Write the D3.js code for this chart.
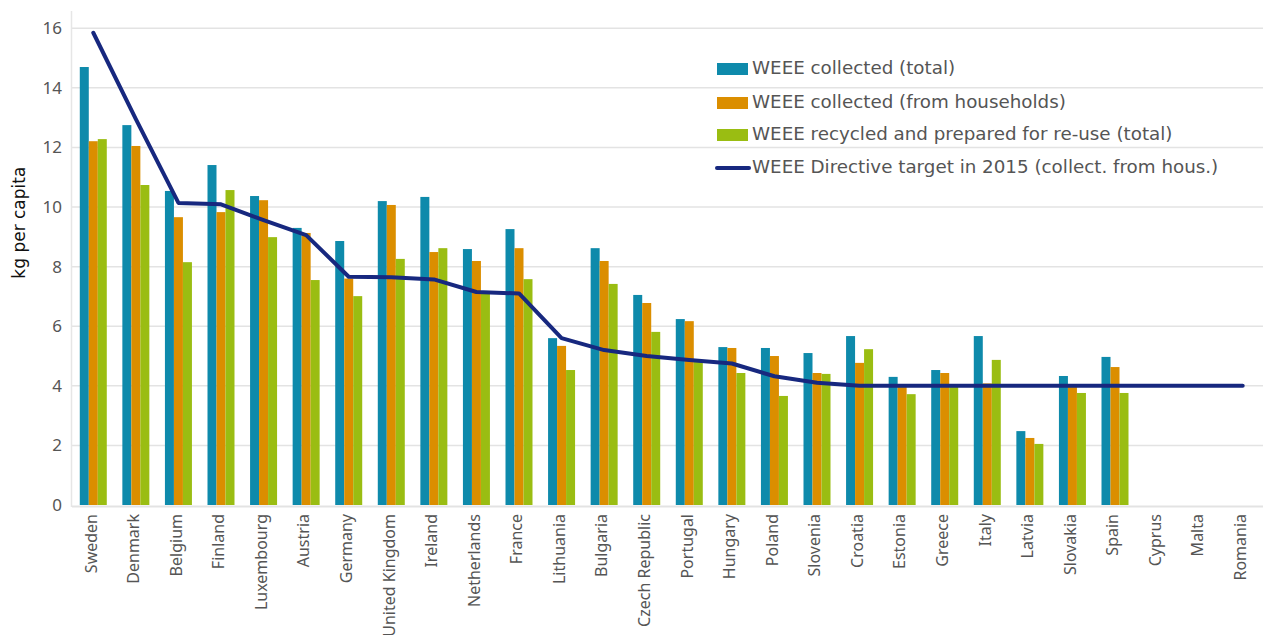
<!DOCTYPE html>
<html><head><meta charset="utf-8">
<script src="https://cdn.jsdelivr.net/npm/d3@7"></script>
<style>body{margin:0;background:#fff;} text{font-family:"Noto Sans",sans-serif;}</style>
</head><body><svg id="c" width="1263" height="635"></svg>
<script>
const countries = ["Sweden","Denmark","Belgium","Finland","Luxembourg","Austria","Germany","United Kingdom","Ireland","Netherlands","France","Lithuania","Bulgaria","Czech Republic","Portugal","Hungary","Poland","Slovenia","Croatia","Estonia","Greece","Italy","Latvia","Slovakia","Spain","Cyprus","Malta","Romania"];
const collectedTotal = [14.70,12.75,10.54,11.41,10.37,9.30,8.86,10.20,10.34,8.59,9.26,5.60,8.62,7.05,6.24,5.30,5.27,5.10,5.67,4.30,4.53,5.67,2.48,4.33,4.97,null,null,null];
const collectedHouseholds = [12.21,12.05,9.66,9.83,10.23,9.13,7.60,10.07,8.49,8.19,8.62,5.34,8.19,6.78,6.17,5.27,5.00,4.43,4.77,4.02,4.43,4.08,2.25,3.98,4.63,null,null,null];
const recycled = [12.28,10.74,8.15,10.57,8.99,7.55,7.01,8.26,8.62,7.10,7.58,4.53,7.42,5.81,4.80,4.43,3.66,4.40,5.23,3.72,3.96,4.87,2.05,3.76,3.76,null,null,null];
const target = [15.85,12.95,10.14,10.09,9.56,9.06,7.66,7.64,7.57,7.15,7.10,5.60,5.20,5.00,4.87,4.75,4.32,4.10,4.00,4.00,4.00,4.00,4.00,4.00,4.00,4.00,4.00,4.00];
const yTicks = [0,2,4,6,8,10,12,14,16];
const seriesNames = ["WEEE collected (total)","WEEE collected (from households)","WEEE recycled and prepared for re-use (total)","WEEE Directive target in 2015 (collect. from hous.)"];
const colors = ["#0e8aab","#db8e00","#9abd12","#17287f"];

const svg = d3.select("#c");
const m = {left:72, right:1264, top:11, bottom:505};
const x = d3.scaleBand().domain(countries).range([m.left, m.right]).padding(0);
const y = d3.scaleLinear().domain([0, 16.58]).range([m.bottom, m.top]);
const bw = 9;

// gridlines
svg.append("g").selectAll("line").data(yTicks.filter(d=>d>0)).join("line")
  .attr("x1", m.left).attr("x2", 1263).attr("y1", d=>y(d)).attr("y2", d=>y(d))
  .attr("stroke", "#e3e3e3").attr("stroke-width", 1.5);
// axes lines
svg.append("line").attr("x1", m.left-0.5).attr("x2", m.left-0.5).attr("y1", m.top).attr("y2", m.bottom+2)
  .attr("stroke", "#e6e6e6").attr("stroke-width", 1.5);
svg.append("line").attr("x1", m.left).attr("x2", 1263).attr("y1", m.bottom+1.5).attr("y2", m.bottom+1.5)
  .attr("stroke", "#e3e3e3").attr("stroke-width", 2);

// y axis
const yAxis = d3.axisLeft(y).tickValues(yTicks).tickSize(0).tickPadding(10).tickFormat(d3.format("d"));
const gy = svg.append("g").attr("transform", `translate(${m.left},0)`).call(yAxis);
gy.select(".domain").remove();
gy.selectAll("text").attr("fill", "#555").style("font-size", "17px");

svg.append("text").attr("transform", `translate(25,${(y(16)+m.bottom)/2 - 44}) rotate(-90)`)
  .attr("text-anchor", "middle").attr("fill", "#111").style("font-family", "'DejaVu Sans',sans-serif").style("font-size", "17px").text("kg per capita");

// x axis
const xAxis = d3.axisBottom(x).tickSize(0).tickPadding(0);
const gx = svg.append("g").attr("transform", `translate(0,${m.bottom})`).call(xAxis);
gx.select(".domain").remove();
gx.selectAll("text").attr("fill", "#555").style("font-size", "16px")
  .attr("text-anchor", "end").attr("dy", null).attr("y", 0)
  .attr("transform", "translate(-1,9) rotate(-90)").attr("dominant-baseline", "middle");

// bars
const series = [collectedTotal, collectedHouseholds, recycled];
series.forEach((vals, si) => {
  svg.append("g").selectAll("rect").data(countries.map((c,i)=>({c, v: vals[i]})).filter(d=>d.v!=null)).join("rect")
    .attr("x", d => x(d.c) + x.bandwidth()/2 - 1.5*bw + si*bw)
    .attr("width", bw)
    .attr("y", d => y(d.v))
    .attr("height", d => y(0) - y(d.v))
    .attr("fill", colors[si]);
});

// line
const line = d3.line().x((d,i)=>x(countries[i]) + x.bandwidth()/2).y(d=>y(d));
svg.append("path").datum(target).attr("d", line).attr("fill", "none")
  .attr("stroke", colors[3]).attr("stroke-width", 4).attr("stroke-linejoin", "round").attr("stroke-linecap", "round");

// legend
const leg = svg.append("g");
const ly = [69, 103, 135, 168];
seriesNames.forEach((name, i) => {
  if (i < 3) {
    leg.append("rect").attr("x", 717).attr("y", ly[i]-6).attr("width", 31).attr("height", 12).attr("fill", colors[i]);
  } else {
    leg.append("line").attr("x1", 717).attr("x2", 749).attr("y1", ly[i]).attr("y2", ly[i])
      .attr("stroke", colors[3]).attr("stroke-width", 4).attr("stroke-linecap", "round");
  }
  leg.append("text").attr("x", 752).attr("y", ly[i]).attr("dominant-baseline", "middle")
    .attr("fill", "#555").style("font-family", "'DejaVu Sans',sans-serif").style("font-size", "18.3px").text(name);
});
</script></body></html>
